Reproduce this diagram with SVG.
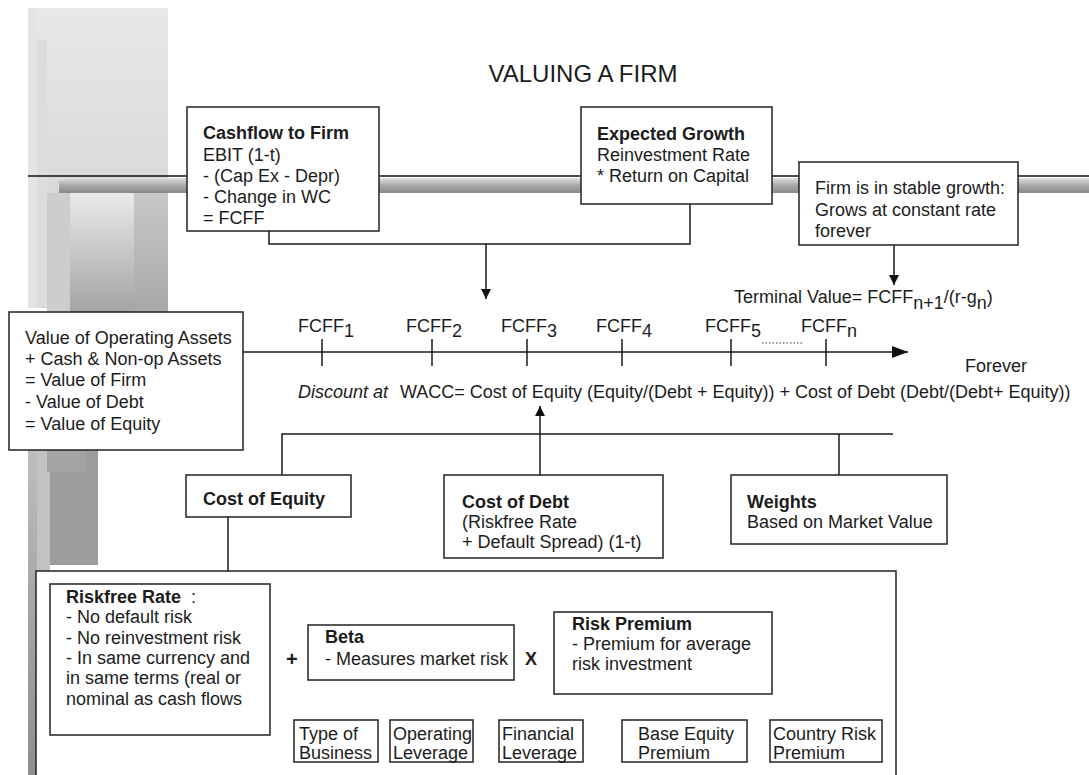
<svg xmlns="http://www.w3.org/2000/svg" width="1089" height="775" viewBox="0 0 1089 775">
<defs>
<linearGradient id="tube" x1="0" y1="0" x2="0" y2="1">
<stop offset="0" stop-color="#e0e0e0"/><stop offset="0.5" stop-color="#a8a8a8"/><stop offset="1" stop-color="#8a8a8a"/>
</linearGradient>
<linearGradient id="colA" x1="0" y1="0" x2="0" y2="1">
<stop offset="0" stop-color="#e9e9e9"/><stop offset="1" stop-color="#a4a4a4"/>
</linearGradient>
<linearGradient id="colB" x1="0" y1="0" x2="0" y2="1">
<stop offset="0" stop-color="#e8e8e8"/><stop offset="1" stop-color="#d0d0d0"/>
</linearGradient>
<linearGradient id="colC" x1="0" y1="0" x2="0" y2="1">
<stop offset="0" stop-color="#c8c8c8"/><stop offset="1" stop-color="#a8a8a8"/>
</linearGradient>
<linearGradient id="colD" x1="0" y1="0" x2="0" y2="1">
<stop offset="0" stop-color="#bdbdbd"/><stop offset="1" stop-color="#8e8e8e"/>
</linearGradient>
<marker id="ah" viewBox="0 0 10 10" refX="10" refY="5" markerWidth="10" markerHeight="10" markerUnits="userSpaceOnUse" orient="auto">
<path d="M0,0 L10,5 L0,10 Z" fill="#111"/>
</marker>
<marker id="ahBig" viewBox="0 0 16 12" refX="16" refY="6" markerWidth="16" markerHeight="12" markerUnits="userSpaceOnUse" orient="auto">
<path d="M0,0 L16,6 L0,12 Z" fill="#111"/>
</marker>
</defs>
<style>
text{font-family:"Liberation Sans",Arial,sans-serif;font-size:18px;fill:#1c1c1c}
.b{font-weight:bold}
.box{fill:#fff;stroke:#222;stroke-width:1.5}
.ln{fill:none;stroke:#1a1a1a;stroke-width:1.5}
</style>
<rect width="1089" height="775" fill="#fff"/>
<g id="background">
<rect x="28" y="8" width="140" height="300" fill="url(#colB)"/>
<rect x="28" y="8" width="9" height="300" fill="#e4e4e4"/>
<rect x="37" y="40" width="10" height="268" fill="#dcdcdc"/>
<rect x="47" y="193" width="23" height="120" fill="#cdcdcd"/>
<rect x="70" y="193" width="64" height="120" fill="url(#colA)"/>
<rect x="134" y="193" width="34" height="120" fill="url(#colC)"/>
<rect x="28" y="450" width="9" height="325" fill="url(#colD)"/>
<rect x="37" y="450" width="13" height="121" fill="#c2c2c2"/>
<rect x="50" y="450" width="48" height="115" fill="#9d9d9d"/>
<rect x="47" y="450" width="39" height="22" fill="#a3a3a3"/>
<line x1="28" y1="176" x2="1089" y2="176" stroke="#111" stroke-width="1.5"/>
<rect x="59" y="178" width="1030" height="15" fill="url(#tube)"/>
</g>
<text x="583" y="82" text-anchor="middle" style="font-size:24px">VALUING A FIRM</text>
<g id="connectors">
<polyline class="ln" points="269,231 269,244 690,244 690,204"/>
<line class="ln" x1="486" y1="244" x2="486" y2="299" marker-end="url(#ah)"/>
<line class="ln" x1="894" y1="245" x2="894" y2="285" marker-end="url(#ah)"/>
<line class="ln" x1="243" y1="352" x2="908" y2="352" marker-end="url(#ahBig)"/>
<g class="ln">
<line x1="322" y1="339" x2="322" y2="366"/>
<line x1="432" y1="339" x2="432" y2="366"/>
<line x1="527" y1="339" x2="527" y2="366"/>
<line x1="622" y1="339" x2="622" y2="366"/>
<line x1="731" y1="339" x2="731" y2="366"/>
<line x1="826" y1="339" x2="826" y2="366"/>
</g>
<line x1="762" y1="343" x2="804" y2="343" stroke="#333" stroke-width="1" stroke-dasharray="1.5,2"/>
<line class="ln" x1="540" y1="475" x2="540" y2="406" marker-end="url(#ah)"/>
<polyline class="ln" points="282,475 282,434 893,434"/>
<line class="ln" x1="839" y1="434" x2="839" y2="475"/>
<line class="ln" x1="228" y1="517" x2="228" y2="571"/>
<line class="ln" x1="418" y1="706" x2="418" y2="680" marker-end="url(#ah)"/>
<polyline class="ln" points="322,720 322,706 540,706 540,720"/>
<line class="ln" x1="432" y1="706" x2="432" y2="720"/>
<polyline class="ln" points="663,720 663,707 813,707 813,720"/>
<line class="ln" x1="690" y1="694" x2="690" y2="707"/>
</g>
<g id="cashflow">
<rect class="box" x="187" y="107" width="192" height="124"/>
<text x="203" y="139" class="b">Cashflow to Firm</text>
<text x="203" y="161">EBIT (1-t)</text>
<text x="203" y="182">- (Cap Ex - Depr)</text>
<text x="203" y="203">- Change in WC</text>
<text x="203" y="224">= FCFF</text>
</g>
<g id="growth">
<rect class="box" x="581" y="107" width="191" height="97"/>
<text x="597" y="140" class="b">Expected Growth</text>
<text x="597" y="161">Reinvestment Rate</text>
<text x="597" y="182">* Return on Capital</text>
</g>
<g id="stable">
<rect class="box" x="799" y="162" width="219" height="83"/>
<text x="815" y="194">Firm is in stable growth:</text>
<text x="815" y="216">Grows at constant rate</text>
<text x="815" y="237">forever</text>
</g>
<g id="terminal">
<text x="734" y="303">Terminal Value= FCFF<tspan dy="6">n+1</tspan><tspan dy="-6">/(r-g</tspan><tspan dy="6">n</tspan><tspan dy="-6">)</tspan></text>
</g>
<g id="value">
<rect class="box" x="9" y="312" width="234" height="138"/>
<text x="25" y="344">Value of Operating Assets</text>
<text x="25" y="365">+ Cash &amp; Non-op Assets</text>
<text x="25" y="386">= Value of Firm</text>
<text x="25" y="408">- Value of Debt</text>
<text x="25" y="430">= Value of Equity</text>
</g>
<g id="timeline-labels">
<text x="298" y="332">FCFF<tspan dy="5">1</tspan></text>
<text x="406" y="332">FCFF<tspan dy="5">2</tspan></text>
<text x="501" y="332">FCFF<tspan dy="5">3</tspan></text>
<text x="596" y="332">FCFF<tspan dy="5">4</tspan></text>
<text x="705" y="332">FCFF<tspan dy="5">5</tspan></text>
<text x="801" y="332">FCFF<tspan dy="5">n</tspan></text>
<text x="965" y="372">Forever</text>
<text x="298" y="398" font-style="italic">Discount at</text>
<text x="400" y="398">WACC= Cost of Equity (Equity/(Debt + Equity)) + Cost of Debt (Debt/(Debt+ Equity))</text>
</g>
<g id="cost-equity">
<rect class="box" x="186" y="475" width="165" height="42"/>
<text x="203" y="505" class="b">Cost of Equity</text>
</g>
<g id="cost-debt">
<rect class="box" x="444" y="475" width="219" height="83"/>
<text x="462" y="508" class="b">Cost of Debt</text>
<text x="462" y="528">(Riskfree Rate</text>
<text x="462" y="548">+ Default Spread) (1-t)</text>
</g>
<g id="weights">
<rect class="box" x="731" y="475" width="216" height="69"/>
<text x="747" y="508" class="b">Weights</text>
<text x="747" y="528">Based on Market Value</text>
</g>
<g id="equity-detail">
<rect class="box" x="36" y="571" width="860" height="220"/>
</g>
<g id="riskfree">
<rect class="box" x="50" y="584" width="220" height="151"/>
<text x="66" y="603" class="b">Riskfree Rate&#160;&#160;<tspan font-weight="normal">:</tspan></text>
<text x="66" y="623">- No default risk</text>
<text x="66" y="644">- No reinvestment risk</text>
<text x="66" y="664">- In same currency and</text>
<text x="66" y="684">in same terms (real or</text>
<text x="66" y="705">nominal as cash flows</text>
</g>
<text x="286" y="666" class="b" style="font-size:20px">+</text>
<g id="beta">
<rect class="box" x="308" y="625" width="206" height="55"/>
<text x="325" y="643" class="b">Beta</text>
<text x="325" y="665">- Measures market risk</text>
</g>
<text x="525" y="665" class="b">X</text>
<g id="risk-premium">
<rect class="box" x="554" y="612" width="218" height="82"/>
<text x="572" y="630" class="b">Risk Premium</text>
<text x="572" y="650">- Premium for average</text>
<text x="572" y="670">risk investment</text>
</g>
<g id="type-business">
<rect class="box" x="294" y="720" width="84" height="42"/>
<text x="299" y="740">Type of</text>
<text x="299" y="759">Business</text>
</g>
<g id="operating">
<rect class="box" x="390" y="720" width="83" height="42"/>
<text x="393" y="740">Operating</text>
<text x="393" y="759">Leverage</text>
</g>
<g id="financial">
<rect class="box" x="499" y="720" width="84" height="42"/>
<text x="502" y="740">Financial</text>
<text x="502" y="759">Leverage</text>
</g>
<g id="base-equity">
<rect class="box" x="622" y="720" width="125" height="42"/>
<text x="638" y="740">Base Equity</text>
<text x="638" y="759">Premium</text>
</g>
<g id="country-risk">
<rect class="box" x="770" y="720" width="112" height="42"/>
<text x="773" y="740">Country Risk</text>
<text x="773" y="759">Premium</text>
</g>
</svg>
